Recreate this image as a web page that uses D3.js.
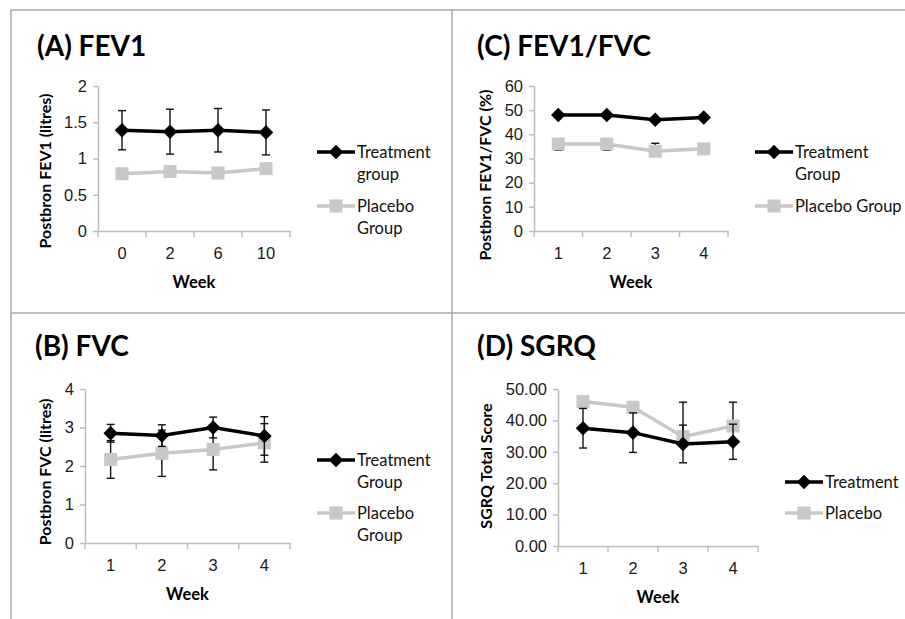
<!DOCTYPE html>
<html>
<head>
<meta charset="utf-8">
<script src="https://cdn.jsdelivr.net/npm/d3@7"></script>
<style>
  body { margin: 0; background: #fff; }
  svg { display: block; font-family: Lato, "Open Sans", sans-serif; }
  .tick text { fill: #1a1a1a; font-size: 16.5px; }
  .axis path, .axis line { stroke: #bdbdbd; stroke-width: 1.5; }
</style>
</head>
<body>
<svg id="chart" width="905" height="619"></svg>
<script>
// (A) FEV1
var fevWeeks = ["0", "2", "6", "10"];
var fevTreat = [1.39, 1.37, 1.39, 1.36];
var fevTreatErr = [0.27, 0.31, 0.30, 0.31];
var fevPlacebo = [0.79, 0.82, 0.80, 0.86];
var fevPlaceboErrUp = [0, 0, 0, 0];
var fevPlaceboErrDown = [0, 0, 0, 0];
var fevTicks = [0, 0.5, 1, 1.5, 2];

// (B) FVC
var fvcWeeks = ["1", "2", "3", "4"];
var fvcTreat = [2.85, 2.79, 3.0, 2.78];
var fvcTreatErr = [0.23, 0.28, 0.27, 0.5];
var fvcPlacebo = [2.17, 2.33, 2.43, 2.6];
var fvcPlaceboErrUp = [0.49, 0.6, 0.53, 0.5];
var fvcPlaceboErrDown = [0.49, 0.6, 0.53, 0.5];
var fvcTicks = [0, 1, 2, 3, 4];

// (C) FEV1/FVC
var ratioWeeks = ["1", "2", "3", "4"];
var ratioTreat = [48, 48, 46, 47];
var ratioTreatErr = [1, 1, 1, 1];
var ratioPlacebo = [36, 36, 33, 34];
var ratioPlaceboErrUp = [0, 0, 3.3, 0];
var ratioPlaceboErrDown = [2.6, 2.6, 0, 0];
var ratioTicks = [0, 10, 20, 30, 40, 50, 60];

// (D) SGRQ
var sgrqWeeks = ["1", "2", "3", "4"];
var sgrqTreat = [37.5, 36.1, 32.5, 33.2];
var sgrqTreatErr = [6.3, 6.3, 6.0, 5.6];
var sgrqPlacebo = [46.0, 44.2, 34.8, 38.2];
var sgrqPlaceboErrUp = [0, 0, 11, 7.6];
var sgrqPlaceboErrDown = [0, 0, 0, 0];
var sgrqTicks = [0, 10, 20, 30, 40, 50];

var svg = d3.select("#chart");

// panel frames
var frame = svg.append("g").attr("fill", "none").attr("stroke", "#a8a8a8").attr("stroke-width", 1.5);
frame.append("line").attr("x1", 11).attr("y1", 10).attr("x2", 905).attr("y2", 10);
frame.append("line").attr("x1", 11).attr("y1", 10).attr("x2", 11).attr("y2", 619);
frame.append("line").attr("x1", 452).attr("y1", 10).attr("x2", 452).attr("y2", 619);
frame.append("line").attr("x1", 11).attr("y1", 313).attr("x2", 905).attr("y2", 313);

var panels = [
  {title: "(A) FEV1", tx: 37, ty: 56, weeks: fevWeeks, treat: fevTreat, treatErr: fevTreatErr,
   placebo: fevPlacebo, pUp: fevPlaceboErrUp, pDown: fevPlaceboErrDown, ticks: fevTicks, fmt: d3.format(""),
   x0: 98, x1: 290, y0: 231, y1: 86, ylab: "Postbron FEV1 (litres)", ylx: 45, ylc: 171,
   lx: 317, ly1: 152, ly2: 206, l1: ["Treatment", "group"], l2: ["Placebo", "Group"]},
  {title: "(B) FVC", tx: 35, ty: 356, weeks: fvcWeeks, treat: fvcTreat, treatErr: fvcTreatErr,
   placebo: fvcPlacebo, pUp: fvcPlaceboErrUp, pDown: fvcPlaceboErrDown, ticks: fvcTicks, fmt: d3.format(""),
   x0: 85, x1: 290, y0: 543, y1: 389, ylab: "Postbron FVC (litres)", ylx: 45, ylc: 472,
   lx: 317, ly1: 460, ly2: 513, l1: ["Treatment", "Group"], l2: ["Placebo", "Group"]},
  {title: "(C) FEV1/FVC", tx: 477, ty: 56, weeks: ratioWeeks, treat: ratioTreat, treatErr: ratioTreatErr,
   placebo: ratioPlacebo, pUp: ratioPlaceboErrUp, pDown: ratioPlaceboErrDown, ticks: ratioTicks, fmt: d3.format(""),
   x0: 534, x1: 728, y0: 231, y1: 86, ylab: "Postbron FEV1/FVC (%)", ylx: 485, ylc: 175,
   lx: 755, ly1: 152, ly2: 206, l1: ["Treatment", "Group"], l2: ["Placebo Group"]},
  {title: "(D) SGRQ", tx: 477, ty: 356, weeks: sgrqWeeks, treat: sgrqTreat, treatErr: sgrqTreatErr,
   placebo: sgrqPlacebo, pUp: sgrqPlaceboErrUp, pDown: sgrqPlaceboErrDown, ticks: sgrqTicks, fmt: d3.format(".2f"),
   x0: 558, x1: 758, y0: 546, y1: 389, ylab: "SGRQ Total Score", ylx: 486, ylc: 466,
   lx: 785, ly1: 482, ly2: 513, l1: ["Treatment"], l2: ["Placebo"]}
];

var diamond = d3.symbol().type(d3.symbolDiamond2).size(135);
var square = d3.symbol().type(d3.symbolSquare).size(170);

panels.forEach(function(p) {
  var g = svg.append("g");

  g.append("text")
    .attr("x", p.tx).attr("y", p.ty)
    .style("font-size", "28px").style("font-weight", "bold")
    .text(p.title);

  var x = d3.scaleBand().domain(p.weeks).range([p.x0, p.x1]).padding(0);
  var y = d3.scaleLinear().domain([p.ticks[0], p.ticks[p.ticks.length - 1]]).range([p.y0, p.y1]);
  var cx = function(d, i) { return x(p.weeks[i]) + x.bandwidth() / 2; };

  // y axis
  g.append("g").attr("class", "axis")
    .attr("transform", "translate(" + p.x0 + ",0)")
    .call(d3.axisLeft(y).tickValues(p.ticks).tickSize(5).tickSizeOuter(0).tickPadding(6).tickFormat(p.fmt));

  // x axis, ticks at category boundaries
  var xa = g.append("g").attr("class", "axis")
    .attr("transform", "translate(0," + p.y0 + ")")
    .call(d3.axisBottom(x).tickSize(0).tickPadding(16));
  xa.selectAll(".bound")
    .data(d3.range(p.weeks.length + 1))
    .enter().append("line")
    .attr("x1", function(i) { return p.x0 + i * x.step(); })
    .attr("x2", function(i) { return p.x0 + i * x.step(); })
    .attr("y1", 0).attr("y2", 6);

  g.append("text")
    .attr("x", (p.x0 + p.x1) / 2).attr("y", p.y0 + 57)
    .attr("text-anchor", "middle")
    .style("font-size", "16.5px").style("font-weight", "bold")
    .text("Week");

  g.append("text")
    .attr("transform", "translate(" + p.ylx + "," + p.ylc + ") rotate(-90)")
    .attr("text-anchor", "middle").attr("dy", "0.35em")
    .style("font-size", "16px").style("font-weight", "bold")
    .text(p.ylab);

  var line = d3.line().x(cx).y(function(d) { return y(d); });

  // placebo series
  g.append("path").datum(p.placebo)
    .attr("d", line).attr("fill", "none")
    .attr("stroke", "#c8c8c8").attr("stroke-width", 3.5);
  drawErr(g, p.placebo, p.pUp, p.pDown, cx, y);
  g.selectAll(".sq").data(p.placebo).enter().append("path")
    .attr("d", square).attr("fill", "#c8c8c8")
    .attr("transform", function(d, i) { return "translate(" + cx(d, i) + "," + y(d) + ")"; });

  // treatment series
  drawErr(g, p.treat, p.treatErr, p.treatErr, cx, y);
  g.append("path").datum(p.treat)
    .attr("d", line).attr("fill", "none")
    .attr("stroke", "#000").attr("stroke-width", 3.5);
  g.selectAll(".dm").data(p.treat).enter().append("path")
    .attr("d", diamond).attr("fill", "#000")
    .attr("transform", function(d, i) { return "translate(" + cx(d, i) + "," + y(d) + ")"; });

  // legend
  legendItem(g, p.lx, p.ly1, "#000", diamond, p.l1);
  legendItem(g, p.lx, p.ly2, "#c8c8c8", square, p.l2);
});

function drawErr(g, vals, up, down, cx, y) {
  var e = g.append("g").attr("stroke", "#111").attr("stroke-width", 1.4);
  vals.forEach(function(v, i) {
    if (!up[i] && !down[i]) return;
    var xc = cx(v, i);
    var top = y(v + up[i]);
    var bot = y(v - down[i]);
    e.append("line").attr("x1", xc).attr("x2", xc).attr("y1", top).attr("y2", bot);
    if (up[i]) e.append("line").attr("x1", xc - 4).attr("x2", xc + 4).attr("y1", top).attr("y2", top);
    if (down[i]) e.append("line").attr("x1", xc - 4).attr("x2", xc + 4).attr("y1", bot).attr("y2", bot);
  });
}

function legendItem(g, lx, ly, color, sym, lines) {
  g.append("line").attr("x1", lx).attr("x2", lx + 38).attr("y1", ly).attr("y2", ly)
    .attr("stroke", color).attr("stroke-width", 3.5);
  g.append("path").attr("d", sym).attr("fill", color)
    .attr("transform", "translate(" + (lx + 19) + "," + ly + ")");
  var t = g.append("text").attr("x", lx + 40).attr("y", ly + 6).style("font-size", "16.5px").attr("fill", "#111");
  lines.forEach(function(s, k) {
    t.append("tspan").attr("x", lx + 40).attr("dy", k === 0 ? 0 : 22).text(s);
  });
}
</script>
</body>
</html>
